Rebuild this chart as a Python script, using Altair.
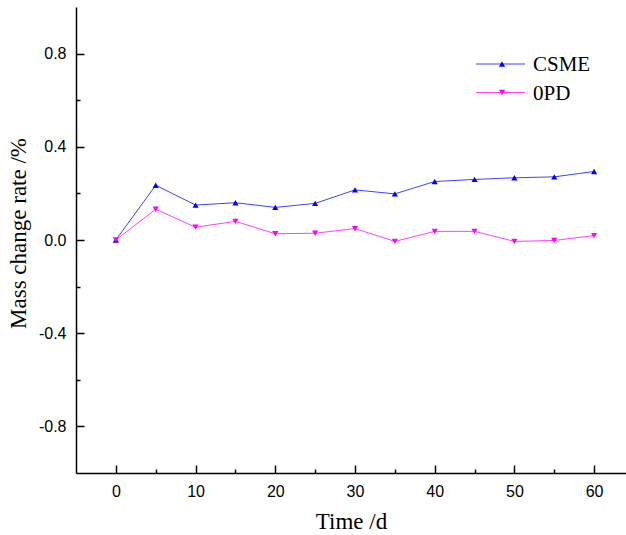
import altair as alt
import pandas as pd

days = [0, 5, 10, 15, 20, 25, 30, 35, 40, 45, 50, 55, 60]
csme = [0.0, 0.235, 0.150, 0.160, 0.140, 0.157, 0.215, 0.198, 0.251, 0.260, 0.267, 0.271, 0.294]
opd = [0.0, 0.132, 0.055, 0.080, 0.027, 0.029, 0.049, -0.006, 0.037, 0.037, -0.006, -0.002, 0.019]
series = ["CSME", "0PD"]
colors = ["#0000ff", "#ff00ff"]
shapes = ["triangle-up", "triangle-down"]
x_label_values = [0, 10, 20, 30, 40, 50, 60]
x_tick_values = [0, 5, 10, 15, 20, 25, 30, 35, 40, 45, 50, 55, 60]
y_label_values = [-0.8, -0.4, 0.0, 0.4, 0.8]
y_tick_values = [-0.8, -0.6, -0.4, -0.2, 0.0, 0.2, 0.4, 0.6, 0.8]

W, H = 550, 466

df = pd.DataFrame({
    "day": days * 2,
    "value": csme + opd,
    "series": [series[0]] * len(days) + [series[1]] * len(days),
})

xs = alt.Scale(domain=[-5, 64], nice=False, zero=False)
ys = alt.Scale(domain=[-1, 1], nice=False, zero=False)
cs = alt.Scale(domain=series, range=colors)
ss = alt.Scale(domain=series, range=shapes)

SERIF = "Liberation Serif"
SANS = "Liberation Sans"

x_main = alt.Axis(values=x_label_values, ticks=False, grid=False, title="Time /d",
                  titleFont=SERIF, titleFontSize=23, titleFontWeight="normal", titleColor="black",
                  titlePadding=11, labelFont=SANS, labelFontSize=16, labelColor="black",
                  labelPadding=10, domainColor="black", domainWidth=1.5, orient="bottom")
y_main = alt.Axis(values=y_label_values, format=".1f",
                  labelExpr="replace(datum.label, '\u2212', '-')",
                  ticks=False, grid=False,
                  title="Mass change rate /%", titleFont=SERIF, titleFontSize=23,
                  titleFontWeight="normal", titleColor="black", titlePadding=8, titleY=226,
                  labelFont=SANS, labelFontSize=16, labelColor="black", labelPadding=10,
                  domainColor="black", domainWidth=1.5, orient="left")
x_ticks = alt.Axis(values=x_tick_values, orient="top", offset=-H, labels=False, domain=False,
                   grid=False, title=None, tickColor="black", tickWidth=1.5,
                   tickSize={"condition": {"test": "datum.value % 10 === 0", "value": 8}, "value": 4})
y_ticks = alt.Axis(values=y_tick_values, orient="right", offset=-W, labels=False, domain=False,
                   grid=False, title=None, tickColor="black", tickWidth=1.5,
                   tickSize={"condition": {"test": "abs(round(datum.value*10)) % 4 === 0", "value": 8}, "value": 4})

lines = alt.Chart(df).mark_line(strokeWidth=1, opacity=0.75).encode(
    x=alt.X("day:Q", scale=xs, axis=x_main),
    y=alt.Y("value:Q", scale=ys, axis=y_main),
    color=alt.Color("series:N", scale=cs, legend=None),
    detail="series:N",
)
points = alt.Chart(df).mark_point(filled=True, size=38, opacity=1).encode(
    x=alt.X("day:Q", scale=xs, axis=x_ticks),
    y=alt.Y("value:Q", scale=ys, axis=y_ticks),
    color=alt.Color("series:N", scale=cs, legend=None),
    shape=alt.Shape("series:N", scale=ss, legend=None),
)

legend_layers = []
for i, name in enumerate(series):
    ly = 57 + i * 28.5
    ldf = pd.DataFrame({"series": [name]})
    base = alt.Chart(ldf)
    legend_layers.append(base.mark_rule(strokeWidth=1, opacity=0.75).encode(
        x=alt.value(400), x2=alt.value(449), y=alt.value(ly),
        color=alt.Color("series:N", scale=cs, legend=None)))
    legend_layers.append(base.mark_point(filled=True, size=38, opacity=1).encode(
        x=alt.value(426), y=alt.value(ly),
        color=alt.Color("series:N", scale=cs, legend=None),
        shape=alt.Shape("series:N", scale=ss, legend=None)))
    legend_layers.append(base.mark_text(align="left", baseline="middle", font=SERIF,
                                        fontSize=21, color="black").encode(
        x=alt.value(457), y=alt.value(ly + 1), text="series:N"))

chart = alt.layer(lines, points, *legend_layers).resolve_axis(
    x="independent", y="independent"
).properties(
    width=W, height=H,
    autosize=alt.AutoSizeParams(type="none"),
    padding={"left": 76, "top": 7, "right": 0, "bottom": 62},
    background="white",
).configure_view(stroke=None)

chart.save("out.html", embed_options={"renderer": "svg", "actions": False})
